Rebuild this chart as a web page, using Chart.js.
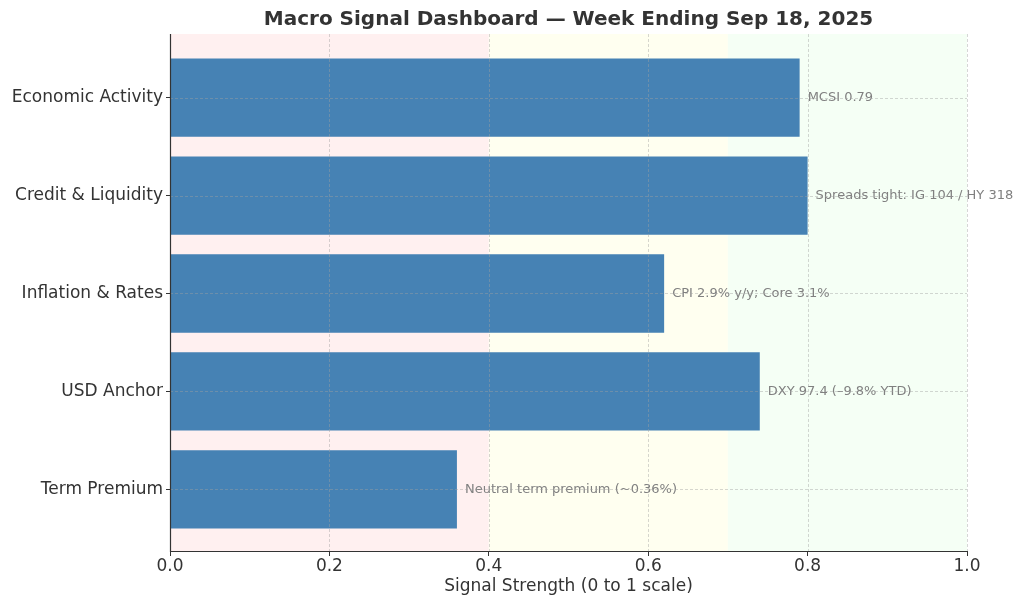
<!DOCTYPE html>
<html>
<head>
<meta charset="utf-8">
<script src="https://cdn.jsdelivr.net/npm/chart.js@4.4.1/dist/chart.umd.min.js"></script>
<style>
  html, body { margin: 0; padding: 0; background: #ffffff; }
  #wrap { width: 1024px; height: 607px; }
</style>
</head>
<body>
<div id="wrap"><canvas id="c" width="1024" height="607"></canvas></div>
<script>
const titleText = 'Macro Signal Dashboard — Week Ending Sep 18, 2025';
const xAxisTitle = 'Signal Strength (0 to 1 scale)';
const categories = ['Economic Activity', 'Credit & Liquidity', 'Inflation & Rates', 'USD Anchor', 'Term Premium'];
const signalValues = [0.79, 0.80, 0.62, 0.74, 0.36];
const annotations = ['MCSI 0.79', 'Spreads tight: IG 104 / HY 318', 'CPI 2.9% y/y; Core 3.1%', 'DXY 97.4 (–9.8% YTD)', 'Neutral term premium (~0.36%)'];
const xTicks = [0.0, 0.2, 0.4, 0.6, 0.8, 1.0];
const bandStarts = [0.0, 0.4, 0.7];
const bandEnds = [0.4, 0.7, 1.0];
const bandColors = ['#fff0f0', '#fffff0', '#f5fff5'];

const FONT = 'DejaVu Sans';

const decorPlugin = {
  id: 'decor',
  beforeDatasetsDraw(chart) {
    const {ctx, chartArea, scales} = chart;
    const xs = scales.x;
    ctx.save();
    for (let i = 0; i < bandStarts.length; i++) {
      const x0 = xs.getPixelForValue(bandStarts[i]);
      const x1 = xs.getPixelForValue(bandEnds[i]);
      ctx.fillStyle = bandColors[i];
      ctx.fillRect(x0, chartArea.top, x1 - x0, chartArea.bottom - chartArea.top);
    }
    ctx.restore();
  },
  afterDatasetsDraw(chart) {
    const {ctx, chartArea, scales} = chart;
    const xs = scales.x, ys = scales.y;
    ctx.save();
    // annotations
    ctx.font = '13px "' + FONT + '"';
    ctx.fillStyle = '#808080';
    ctx.textAlign = 'left';
    ctx.textBaseline = 'middle';
    for (let i = 0; i < categories.length; i++) {
      const px = xs.getPixelForValue(signalValues[i]) + 8;
      const py = ys.getPixelForValue(i);
      ctx.fillText(annotations[i], px, py);
    }
    // dashed grid
    ctx.strokeStyle = 'rgba(160,160,160,0.55)';
    ctx.lineWidth = 0.8;
    ctx.setLineDash([3, 2]);
    xTicks.forEach(v => {
      if (v === 0) return;
      const px = Math.round(xs.getPixelForValue(v)) + 0.5;
      ctx.beginPath();
      ctx.moveTo(px, chartArea.top);
      ctx.lineTo(px, chartArea.bottom);
      ctx.stroke();
    });
    categories.forEach((_, i) => {
      const py = Math.round(ys.getPixelForValue(i)) + 0.5;
      ctx.beginPath();
      ctx.moveTo(chartArea.left, py);
      ctx.lineTo(chartArea.right, py);
      ctx.stroke();
    });
    ctx.setLineDash([]);
    // axis lines (left & bottom spines)
    ctx.strokeStyle = '#333333';
    ctx.lineWidth = 1.2;
    ctx.beginPath();
    ctx.moveTo(chartArea.left + 0.5, chartArea.top);
    ctx.lineTo(chartArea.left + 0.5, chartArea.bottom + 0.5);
    ctx.lineTo(chartArea.right, chartArea.bottom + 0.5);
    ctx.stroke();
    // title
    ctx.fillStyle = '#333333';
    ctx.font = 'bold 20px "' + FONT + '"';
    ctx.textAlign = 'center';
    ctx.textBaseline = 'middle';
    const cx = (chartArea.left + chartArea.right) / 2;
    ctx.fillText(titleText, cx, 20);
    // x axis title
    ctx.font = '17px "' + FONT + '"';
    ctx.fillText(xAxisTitle, cx, 587);
    ctx.restore();
  }
};

new Chart(document.getElementById('c'), {
  type: 'bar',
  data: {
    datasets: [{
      data: signalValues.map((v, i) => ({x: v, y: i})),
      backgroundColor: '#4682B4',
      borderWidth: 0,
      categoryPercentage: 1.0,
      barPercentage: 0.8
    }]
  },
  options: {
    indexAxis: 'y',
    responsive: false,
    animation: false,
    layout: { padding: { top: 34, right: 57, left: 0, bottom: 0 } },
    plugins: { legend: { display: false }, tooltip: { enabled: false }, title: { display: false } },
    scales: {
      x: {
        type: 'linear',
        min: 0, max: 1,
        offset: false,
        afterBuildTicks: s => { s.ticks = xTicks.map(v => ({value: v})); },
        afterFit: s => { s.height = 56; },
        border: { display: false },
        grid: { display: true, offset: false, drawOnChartArea: false, drawTicks: true, tickLength: 5, color: '#333333', lineWidth: 1 },
        ticks: {
          color: '#333333', padding: 0,
          font: { family: FONT, size: 17 },
          callback: v => Number(v).toFixed(1),
          maxRotation: 0
        }
      },
      y: {
        type: 'linear',
        reverse: true,
        offset: false,
        min: -0.65, max: 4.63,
        afterBuildTicks: s => { s.ticks = categories.map((_, i) => ({value: i})); },
        afterFit: s => { s.width = 170; },
        border: { display: false },
        grid: { display: true, offset: false, drawOnChartArea: false, drawTicks: true, tickLength: 4, color: '#333333', lineWidth: 1 },
        ticks: {
          color: '#333333', padding: 3,
          font: { family: FONT, size: 17 },
          callback: v => categories[v] !== undefined ? categories[v] : ''
        }
      }
    }
  },
  plugins: [decorPlugin]
});
</script>
</body>
</html>
